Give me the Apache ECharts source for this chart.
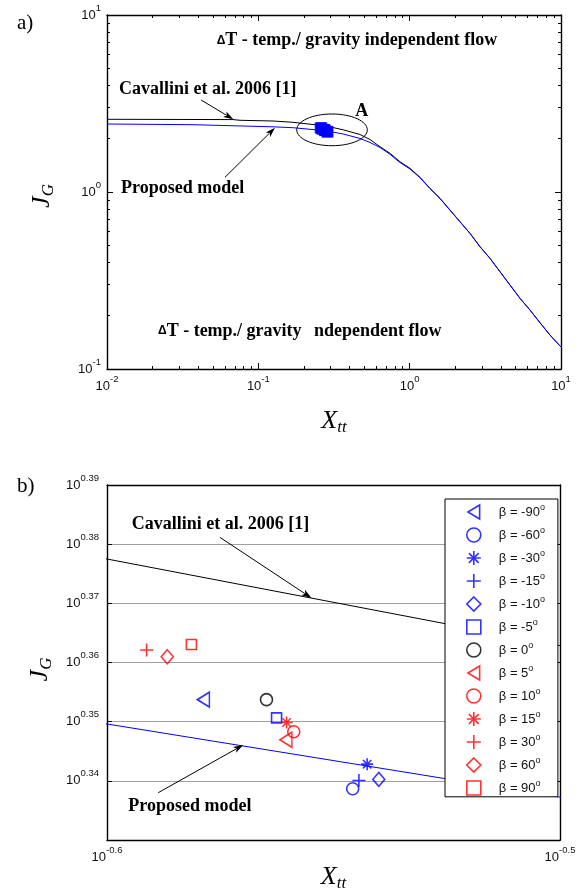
<!DOCTYPE html>
<html><head><meta charset="utf-8">
<script src="https://cdn.jsdelivr.net/npm/echarts@6/dist/echarts.min.js"></script>
<style>html,body{margin:0;padding:0;background:#fff}#c{width:580px;height:896px}</style>
</head><body><div id="c"></div>
<script>
// ---------------- DATA ----------------
// Cavallini et al. 2006 correlation
const cavX = [0.01, 0.068, 0.0757, 0.125, 0.1694, 0.2512, 0.3162, 0.3642, 0.4697, 0.5468, 0.637, 0.7415, 0.863, 1.005, 1.17, 1.362, 1.587, 1.847, 2.15, 2.505, 2.916, 3.396, 3.954, 4.603, 5.359, 6.241, 7.265, 8.459, 10];
const cavJ = [2.575, 2.565, 2.542, 2.518, 2.476, 2.385, 2.306, 2.245, 2.113, 1.98, 1.803, 1.654, 1.483, 1.361, 1.211, 1.049, 0.921, 0.791, 0.68, 0.584, 0.491, 0.422, 0.3545, 0.2982, 0.2508, 0.2154, 0.1826, 0.1556, 0.1331];
// Proposed model
const propX = [0.01, 0.037, 0.125, 0.1694, 0.2512, 0.3162, 0.3642, 0.4697, 0.5468, 0.637, 0.7415, 0.863, 1.005, 1.17, 1.362, 1.587, 1.847, 2.15, 2.505, 2.916, 3.396, 3.954, 4.603, 5.359, 6.241, 7.265, 8.459, 10];
const propJ = [2.422, 2.4, 2.335, 2.308, 2.2367, 2.1739, 2.126, 2.006, 1.905, 1.784, 1.633, 1.468, 1.349, 1.204, 1.045, 0.918, 0.789, 0.679, 0.583, 0.49, 0.421, 0.354, 0.298, 0.2505, 0.215, 0.1824, 0.1555, 0.133];
// Experimental points, inclination beta
const betaDeg = ['-90', '-60', '-30', '-15', '-10', '-5', '0', '5', '10', '15', '30', '60', '90'];
const betaX = [0.2638, 0.2846, 0.2867, 0.2855, 0.2884, 0.2738, 0.2724, 0.2751, 0.2762, 0.2752, 0.2563, 0.2590, 0.2622];
const betaJ = [2.258, 2.181, 2.202, 2.188, 2.189, 2.242, 2.258, 2.223, 2.230, 2.238, 2.302, 2.296, 2.307];
// Axis ticks (exponents of 10)
const aXTickExp = [-2, -1, 0, 1];
const aYTickExp = [-1, 0, 1];
const minorMult = [2, 3, 4, 5, 6, 7, 8, 9];
const bXRangeExp = [-0.6, -0.5];
const bYRangeExp = [0.33, 0.39];
const bXLabelExp = [-0.6, -0.5];
const bYLabelExp = [0.34, 0.35, 0.36, 0.37, 0.38, 0.39];
const bYTickExp = [0.34, 0.35, 0.36, 0.37, 0.38];

// ---------------- STYLES ----------------
const SANS = '"Liberation Sans", Arial, sans-serif';
const SERIF = '"Liberation Serif", "Times New Roman", serif';
const BLUE = '#0000ff', RED = '#ff0000', BLACK = '#000000';
const PLUS = 'path://M0,5L10,5M5,0L5,10';
const STAR = 'path://M0,5L10,5M5,0L5,10M1.5,1.5L8.5,8.5M1.5,8.5L8.5,1.5';
const TRI_LEFT = 'path://M0,6L10,0L10,12Z';
const betaStyle = [
  {symbol: 'triangle', size: [15, 12], rot: 90, icon: TRI_LEFT, color: BLUE},
  {symbol: 'circle', size: 12, rot: 0, color: BLUE},
  {symbol: STAR, size: 12, rot: 0, color: BLUE},
  {symbol: PLUS, size: 13, rot: 0, color: BLUE},
  {symbol: 'diamond', size: [12, 14], rot: 0, color: BLUE},
  {symbol: 'rect', size: 10, rot: 0, color: BLUE},
  {symbol: 'circle', size: 12, rot: 0, color: BLACK},
  {symbol: 'triangle', size: [15, 12], rot: 90, icon: TRI_LEFT, color: RED},
  {symbol: 'circle', size: 12, rot: 0, color: RED},
  {symbol: STAR, size: 12, rot: 0, color: RED},
  {symbol: PLUS, size: 13, rot: 0, color: RED},
  {symbol: 'diamond', size: [12, 14], rot: 0, color: RED},
  {symbol: 'rect', size: 10, rot: 0, color: RED}
];

const pow10 = e => Math.pow(10, e);
// keep a label value strictly inside the axis extent (guards float round-off at the ends)
const inside = (e, range) => pow10(Math.min(Math.max(e, range[0] + 1e-9), range[1] - 1e-9));
const expStr = v => String(Math.round(Math.log10(v) * 100) / 100);
const labelRich = {
  b: {fontFamily: SANS, fontSize: 13, lineHeight: 24, color: '#111'},
  s: {fontFamily: SANS, fontSize: 9.5, lineHeight: 8, verticalAlign: 'top', color: '#111'}
};
const labelFmt = v => '{b|10}{s|' + expStr(v) + '}';

function axis(gridIndex, position, range, o) {
  return Object.assign({
    type: 'log', logBase: 10, gridIndex: gridIndex, position: position,
    min: range[0], max: range[1],
    axisLine: {show: false, onZero: false},
    axisTick: {show: false},
    axisLabel: {show: false},
    splitLine: {show: false},
    minorTick: {show: false}, minorSplitLine: {show: false}
  }, o || {});
}
const LINE = {show: true, onZero: false, lineStyle: {color: '#000', width: 1.4}};
const ticks = (vals, len) => ({show: true, inside: true, length: len, customValues: vals, lineStyle: {color: '#000', width: 1}});

// chart a tick values
const aXMajor = aXTickExp.map(pow10);
const aYMajor = aYTickExp.map(pow10);
const aXMinor = [];
aXTickExp.slice(0, -1).forEach(e => minorMult.forEach(m => aXMinor.push(m * pow10(e))));
const aYMinor = [];
aYTickExp.slice(0, -1).forEach(e => minorMult.forEach(m => aYMinor.push(m * pow10(e))));
const aXRange = [aXMajor[0], aXMajor[aXMajor.length - 1]];
const aYRange = [aYMajor[0], aYMajor[aYMajor.length - 1]];
// chart b
const bXRange = bXRangeExp.map(pow10);
const bYRange = bYRangeExp.map(pow10);

const xName = (gap, subLH) => ({
  name: '{x|X}{t|tt}', nameLocation: 'middle', nameGap: gap,
  nameTextStyle: {rich: {
    x: {fontFamily: SERIF, fontStyle: 'italic', fontSize: 26, lineHeight: 30, color: '#000'},
    t: {fontFamily: SERIF, fontStyle: 'italic', fontSize: 17, lineHeight: subLH, verticalAlign: 'bottom', color: '#000'}
  }}
});
const yName = (gap, pad) => ({
  name: '{j|J}{g|G}', nameLocation: 'middle', nameGap: gap,
  nameTextStyle: {padding: pad || 0, rich: {
    j: {fontFamily: SERIF, fontStyle: 'italic', fontSize: 26, lineHeight: 30, color: '#000'},
    g: {fontFamily: SERIF, fontStyle: 'italic', fontSize: 17, lineHeight: 14, verticalAlign: 'bottom', color: '#000'}
  }}
});

const xAxes = [
  // chart a
  axis(0, 'bottom', aXRange, Object.assign({axisLine: LINE, axisTick: ticks(aXMajor, 6),
    axisLabel: {show: true, customValues: aXTickExp.map(e => inside(e, [-2, 1])), formatter: labelFmt, rich: labelRich, margin: 5}}, xName(37, 14))),
  axis(0, 'top', aXRange, {axisLine: LINE, axisTick: ticks(aXMajor, 6)}),
  axis(0, 'bottom', aXRange, {axisTick: ticks(aXMinor, 3)}),
  axis(0, 'top', aXRange, {axisTick: ticks(aXMinor, 3)}),
  // chart b
  axis(1, 'bottom', bXRange, Object.assign({axisLine: LINE,
    axisLabel: {show: true, customValues: bXLabelExp.map(e => inside(e, bXRangeExp)), formatter: labelFmt, rich: labelRich, margin: 5}}, xName(21, 12))),
  axis(1, 'top', bXRange, {axisLine: LINE})
];
const yAxes = [
  axis(0, 'left', aYRange, Object.assign({axisLine: LINE, axisTick: ticks(aYMajor, 6),
    axisLabel: {show: true, customValues: aYTickExp.map(e => inside(e, [-1, 1])), formatter: labelFmt, rich: labelRich, margin: 6}}, yName(50, [0, 8, 0, 0]))),
  axis(0, 'right', aYRange, {axisLine: LINE, axisTick: ticks(aYMajor, 6)}),
  axis(0, 'left', aYRange, {axisTick: ticks(aYMinor, 3)}),
  axis(0, 'right', aYRange, {axisTick: ticks(aYMinor, 3)}),
  axis(1, 'left', bYRange, Object.assign({axisLine: LINE, axisTick: ticks(bYTickExp.map(pow10), 5),
    axisLabel: {show: true, customValues: bYLabelExp.map(e => inside(e, bYRangeExp)), formatter: labelFmt, rich: labelRich, margin: 8},
    splitLine: {show: true, lineStyle: {color: '#a0a0a0', width: 1}}}, yName(50, [0, 14, 0, 0]))),
  axis(1, 'right', bYRange, {axisLine: LINE, axisTick: ticks(bYTickExp.map(pow10), 5)})
];

const pairs = (xs, ys) => xs.map((x, i) => [x, ys[i]]);
const series = [
  {type: 'line', name: 'Cavallini et al. 2006 [1]', xAxisIndex: 0, yAxisIndex: 0, data: pairs(cavX, cavJ),
    showSymbol: false, symbol: 'none', lineStyle: {color: BLACK, width: 1}, z: 2},
  {type: 'line', name: 'Proposed model', xAxisIndex: 0, yAxisIndex: 0, data: pairs(propX, propJ),
    showSymbol: false, symbol: 'none', lineStyle: {color: BLUE, width: 1}, z: 3},
  {type: 'scatter', name: 'A', xAxisIndex: 0, yAxisIndex: 0, data: pairs(betaX, betaJ),
    symbol: 'rect', symbolSize: 11, itemStyle: {color: BLUE}, z: 4},
  {type: 'line', name: 'Cavallini b', xAxisIndex: 4, yAxisIndex: 4, data: pairs(cavX, cavJ), clip: true,
    showSymbol: false, symbol: 'none', lineStyle: {color: BLACK, width: 1}, z: 2},
  {type: 'line', name: 'Proposed b', xAxisIndex: 4, yAxisIndex: 4, data: pairs(propX, propJ), clip: true,
    showSymbol: false, symbol: 'none', lineStyle: {color: BLUE, width: 1}, z: 2}
];
const legendData = [];
betaDeg.forEach((b, i) => {
  const st = betaStyle[i];
  const nm = 'β = ' + b + '°';
  const item = {name: nm};
  if (st.icon) item.icon = st.icon;
  legendData.push(item);
  series.push({
    type: 'scatter', name: nm, xAxisIndex: 4, yAxisIndex: 4, data: [[betaX[i], betaJ[i]]],
    symbol: st.symbol, symbolSize: st.size, symbolRotate: st.rot,
    itemStyle: {color: 'rgba(0,0,0,0)', borderColor: st.color, borderWidth: 1.6}, z: 5
  });
});

const chart = echarts.init(document.getElementById('c'), null, {renderer: 'canvas'});
chart.setOption({
  animation: false,
  backgroundColor: '#fff',
  title: [
    {text: 'a)', left: 17, top: 13, padding: 0, textStyle: {fontFamily: SERIF, fontSize: 21, fontWeight: 'normal', color: '#000'}},
    {text: 'b)', left: 17, top: 476, padding: 0, textStyle: {fontFamily: SERIF, fontSize: 21, fontWeight: 'normal', color: '#000'}}
  ],
  grid: [
    {left: 107, top: 15, width: 454, height: 354, containLabel: false},
    {left: 107, top: 485, width: 453, height: 355, containLabel: false}
  ],
  xAxis: xAxes,
  yAxis: yAxes,
  legend: {
    data: legendData, orient: 'vertical', left: 445, top: 499,
    itemWidth: 14, itemHeight: 14, itemGap: 6.2, padding: [4, 13, 1, 21],
    backgroundColor: '#fff', borderColor: '#000', borderWidth: 1, borderRadius: 0,
    selectedMode: false,
    itemStyle: {borderWidth: 1.6},
    formatter: name => '{t|' + name.replace('°', '') + '}{s|o}',
    textStyle: {rich: {
      t: {fontFamily: SANS, fontSize: 13, lineHeight: 18, color: '#111', padding: [0, 0, 0, 13]},
      s: {fontFamily: SANS, fontSize: 9, lineHeight: 9, verticalAlign: 'top', color: '#111'}
    }}
  },
  series: series
});

// ---------------- ANNOTATIONS (anchored in data coordinates) ----------------
const pA = (x, y) => chart.convertToPixel({xAxisIndex: 0, yAxisIndex: 0}, [x, y]);
const pB = (x, y) => chart.convertToPixel({xAxisIndex: 4, yAxisIndex: 4}, [x, y]);
const BOLD = 'bold 18px ' + SERIF;
const deltaRich = {d: {fontFamily: SANS, fontWeight: 'bold', fontSize: 12, fill: '#000'}};
function txt(p, text, align, rich) {
  return {type: 'text', z: 100, style: {x: p[0], y: p[1], text: text, font: BOLD, fill: '#000',
    align: align || 'left', verticalAlign: 'middle', rich: rich}};
}
function arrow(p0, p1) {
  const dx = p1[0] - p0[0], dy = p1[1] - p0[1];
  const L = Math.sqrt(dx * dx + dy * dy), ux = dx / L, uy = dy / L;
  const head = 10, half = 3.2;
  const bx = p1[0] - ux * head, by = p1[1] - uy * head;
  return [
    {type: 'line', z: 100, shape: {x1: p0[0], y1: p0[1], x2: bx + ux * 2, y2: by + uy * 2}, style: {stroke: '#000', lineWidth: 1}},
    {type: 'polygon', z: 100, shape: {points: [[p1[0], p1[1]], [bx - uy * half, by + ux * half], [bx + ux * 2.5, by + uy * 2.5], [bx + uy * half, by - ux * half]]},
      style: {fill: '#000'}}
  ];
}
const ellA0 = pA(0.1793, 2.759), ellA1 = pA(0.525, 1.826);
const graphics = [].concat(
  [txt(pA(0.0531, 7.16), '{d|Δ}T - temp./ gravity independent flow', 'left', deltaRich)],
  [txt(pA(0.012, 3.82), 'Cavallini et al. 2006 [1]')],
  arrow(pA(0.0418, 3.311), pA(0.0683, 2.575)),
  [txt(pA(0.01238, 1.049), 'Proposed model')],
  arrow(pA(0.0602, 1.211), pA(0.1289, 2.308)),
  [{type: 'ellipse', z: 100, shape: {cx: (ellA0[0] + ellA1[0]) / 2, cy: (ellA0[1] + ellA1[1]) / 2,
      rx: (ellA1[0] - ellA0[0]) / 2, ry: (ellA1[1] - ellA0[1]) / 2}, style: {fill: 'none', stroke: '#000', lineWidth: 1}}],
  [txt(pA(0.482, 2.843), 'A', 'center')],
  [txt(pA(0.02173, 0.164), '{d|Δ}T - temp./ gravity', 'left', deltaRich)],
  [txt(pA(0.2333, 0.164), 'ndependent flow')],
  [txt(pB(0.25436, 2.4178), 'Cavallini et al. 2006 [1]')],
  arrow(pB(0.26603, 2.4052), pB(0.27871, 2.3491)),
  [txt(pB(0.25392, 2.1665), 'Proposed model')],
  arrow(pB(0.25782, 2.1777), pB(0.2692, 2.2185))
);
chart.setOption({graphic: graphics});
</script>
</body></html>
